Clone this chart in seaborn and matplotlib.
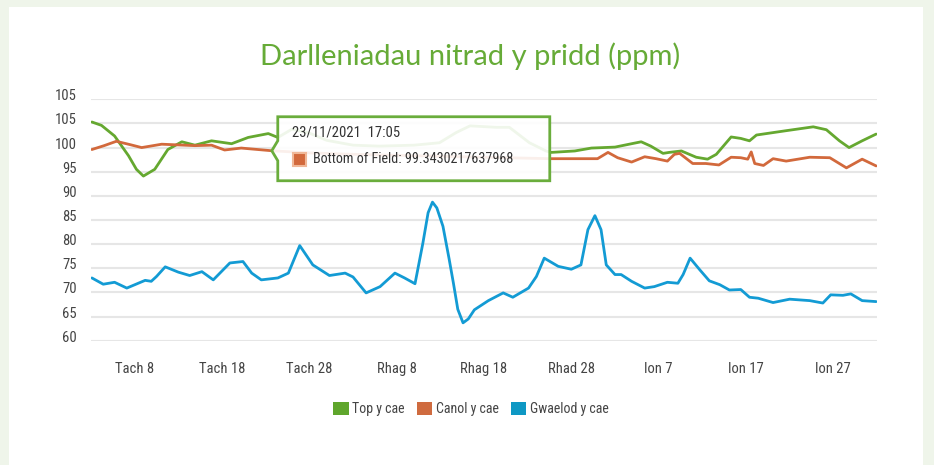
import matplotlib
matplotlib.use("Agg")
import matplotlib.pyplot as plt
import matplotlib.dates as mdates
from matplotlib import font_manager
from matplotlib.patches import Polygon, Rectangle, Patch
from matplotlib.transforms import IdentityTransform, ScaledTranslation
import pandas as pd
import seaborn as sns

# DATA (days counted from 3 Nov 2021)
start = pd.Timestamp("2021-11-03")

top_days = [0.1, 1.2, 2.7, 4.3, 5.2, 6.0, 7.3, 8.8, 10.4, 11.9, 13.8, 16.1, 18.0, 20.3, 21.4,
            23.0, 25.0, 27.0, 30.0, 33.0, 37.0, 39.9, 41.8, 43.4, 46.4, 47.9, 50.2, 52.1,
            52.7, 55.4, 57.3, 60.0, 61.9, 63.0, 64.1, 65.5, 66.2, 67.6, 69.3, 70.6, 71.6,
            73.3, 74.4, 75.4, 76.2, 79.6, 82.7, 84.2, 85.7, 86.8, 88.3, 89.9]
top_vals = [105.3, 104.6, 102.4, 98.3, 95.5, 94.1, 95.5, 99.6, 101.2, 100.5, 101.4, 100.8, 102.1, 102.9, 102.1,
            103.8, 103.0, 101.5, 100.5, 100.3, 100.5, 101.0, 103.1, 104.5, 104.2, 104.2, 101.0, 99.3,
            99.0, 99.3, 99.9, 100.1, 100.8, 101.2, 100.3, 98.8, 99.0, 99.3, 98.0, 97.6, 98.6,
            102.2, 101.9, 101.4, 102.6, 103.5, 104.3, 103.7, 101.4, 100.0, 101.4, 102.8]

mid_days = [0.1, 1.5, 2.9, 4.5, 5.8, 8.1, 11.9, 13.8, 15.3, 17.2, 20.7,
            25.0, 30.0, 35.0, 40.0, 45.0, 50.0, 52.7, 55.4, 58.0, 59.2, 60.3, 61.9, 63.4,
            64.7, 66.0, 66.8, 67.4, 68.9, 70.4, 71.9, 73.3, 74.4, 75.2, 75.6, 76.0, 77.0,
            78.1, 79.6, 82.3, 84.6, 86.5, 88.3, 89.9]
mid_vals = [99.6, 100.4, 101.3, 100.6, 100.0, 100.7, 100.4, 100.5, 99.5, 99.9, 99.343,
            98.9, 98.6, 98.4, 98.2, 98.0, 97.8, 97.7, 97.7, 97.7, 99.0, 97.9, 97.0, 98.1,
            97.7, 97.2, 98.6, 98.8, 96.7, 96.7, 96.4, 98.0, 97.9, 97.6, 99.1, 96.7, 96.3,
            97.7, 97.2, 98.0, 97.9, 95.8, 97.6, 96.2]

bot_days = [0.1, 1.4, 2.7, 4.1, 6.2, 6.9, 7.5, 8.5, 10.0, 11.3, 12.7, 14.0, 15.9, 17.4, 18.4,
            19.5, 21.4, 22.6, 23.9, 25.4, 27.3, 29.1, 30.0, 31.5, 33.1, 34.8, 35.9, 37.1,
            38.0, 38.6, 39.1, 39.6, 40.3, 41.0, 41.5, 42.0, 42.6, 43.2, 43.9, 45.5, 47.2,
            48.3, 50.1, 51.0, 51.9, 53.5, 55.0, 56.1, 56.9, 57.7, 58.4, 59.0, 60.0, 60.7,
            61.9, 63.4, 64.5, 66.0, 67.2, 67.8, 68.6, 69.7, 70.8, 72.0, 73.1, 74.4, 75.4,
            76.4, 78.1, 80.0, 82.3, 83.8, 84.7, 86.1, 87.0, 88.3, 89.9]
bot_vals = [73.0, 71.7, 72.1, 70.9, 72.5, 72.3, 73.3, 75.3, 74.2, 73.5, 74.3, 72.6, 76.1, 76.4, 74.0,
            72.6, 73.0, 74.0, 79.7, 75.7, 73.5, 74.0, 73.2, 69.9, 71.2, 74.0, 73.0, 71.8,
            80.2, 86.5, 88.7, 87.5, 83.7, 77.0, 71.9, 66.5, 63.7, 64.5, 66.4, 68.3, 69.9,
            69.0, 70.9, 73.3, 77.1, 75.4, 74.8, 75.7, 83.0, 85.9, 83.0, 75.7, 73.7, 73.7,
            72.3, 70.9, 71.2, 72.1, 71.9, 73.7, 77.1, 74.7, 72.4, 71.6, 70.5, 70.6, 69.0,
            68.8, 67.9, 68.6, 68.3, 67.8, 69.5, 69.4, 69.7, 68.3, 68.1]

series_names = ["Top y cae", "Canol y cae", "Gwaelod y cae"]
series_colors = ["#65a830", "#d2693c", "#139bd4"]
legend_colors = ["#5fa62c", "#cf6b3f", "#0e98c4"]

tick_days = [5, 15, 25, 35, 45, 55, 65, 75, 85]
tick_labels = ["Tach 8", "Tach 18", "Tach 28", "Rhag 8", "Rhag 18", "Rhad 28", "Ion 7", "Ion 17", "Ion 27"]
y_ticks = [60, 65, 70, 75, 80, 85, 90, 95, 100, 105, 110]
y_labels = ["60", "65", "70", "75", "80", "85", "90", "95", "100", "105", "105"]

tip_day = 20.7
tip_val = 99.3430217637968
tip_title = "23/11/2021  17:05"
tip_text = "Bottom of Field: 99.3430217637968"

# long table for seaborn
frames = []
for name, d, v in zip(series_names, [top_days, mid_days, bot_days], [top_vals, mid_vals, bot_vals]):
    frames.append(pd.DataFrame({"date": start + pd.to_timedelta(d, unit="D"), "value": v, "series": name}))
df = pd.concat(frames, ignore_index=True)

# FONTS
names = {f.name for f in font_manager.fontManager.ttflist}
narrow = next((n for n in ["Roboto Condensed", "Liberation Sans Narrow", "Open Sans Condensed",
                           "DejaVu Sans Condensed"] if n in names), "Liberation Sans")
title_font = "Lato" if "Lato" in names else "DejaVu Sans"

sns.set_style("white")
plt.rcParams["font.family"] = [narrow, "DejaVu Sans"]

fig = plt.figure(figsize=(9.34, 4.65), dpi=100)
fig.patch.set_facecolor("#eff5ea")
fig.add_artist(Rectangle((9 / 934, 0), 914 / 934, 458 / 465, transform=fig.transFigure,
                         facecolor="white", edgecolor="none", zorder=-5))

ax = fig.add_axes([91 / 934, 1 - 340.7 / 465, 786 / 934, 241.4 / 465])
ax.set_facecolor("none")

sns.lineplot(data=df, x="date", y="value", hue="series", hue_order=series_names,
             palette=series_colors, estimator=None, sort=True, linewidth=2.0,
             legend=False, ax=ax)
for ln in ax.get_lines():
    ln.set_solid_joinstyle("round")

ax.set_xlim(start, start + pd.Timedelta(days=90))
ax.set_ylim(60, 110)
ax.set_xticks([start + pd.Timedelta(days=t) for t in tick_days])
ax.set_xticklabels(tick_labels)
ax.set_yticks(y_ticks)
ax.set_yticklabels(y_labels)
ax.set_xlabel("")
ax.set_ylabel("")
ax.tick_params(axis="both", length=0, labelsize=10.5, labelcolor="#444444")
ax.tick_params(axis="x", pad=15)
ax.tick_params(axis="y", pad=10)
for lab in ax.get_yticklabels():
    lab.set_transform(lab.get_transform() + ScaledTranslation(0, 4.5 / 100, fig.dpi_scale_trans))
ax.grid(True, axis="y", color="#e6e6e6", linewidth=1.5)
ax.grid(False, axis="x")
ax.set_axisbelow(True)
sns.despine(ax=ax, left=True, bottom=True)

fig.text(470 / 934, 1 - 56 / 465, "Darlleniadau nitrad y pridd (ppm)", ha="center", va="center",
         color="#66ab37", fontsize=21, family=title_font)

handles = [Patch(facecolor=c, edgecolor="none", label=n) for n, c in zip(series_names, legend_colors)]
fig.legend(handles=handles, loc="center", bbox_to_anchor=(471 / 934, 1 - 409 / 465), ncol=3,
           frameon=False, fontsize=10, handlelength=1.1, handleheight=1.1,
           handletextpad=0.25, columnspacing=0.9, labelcolor="#444444")

# tooltip
fig.canvas.draw()
tx, ty = ax.transData.transform((mdates.date2num(start + pd.Timedelta(days=tip_day)), tip_val))
box = [(tx, ty), (tx + 6, ty + 10), (tx + 6, ty + 34), (tx + 278, ty + 34),
       (tx + 278, ty - 30), (tx + 6, ty - 30), (tx + 6, ty - 10)]
fig.add_artist(Polygon(box, closed=True, transform=IdentityTransform(), facecolor="white",
                       alpha=0.9, edgecolor="none", zorder=5))
fig.add_artist(Polygon(box, closed=True, transform=IdentityTransform(), facecolor="none",
                       edgecolor="#6aad3c", linewidth=2.0, zorder=6))
fig.add_artist(Rectangle((tx + 21, ty - 15), 13, 13, transform=IdentityTransform(),
                         facecolor="#d2693c", edgecolor="#f0b898", linewidth=1.5, zorder=7))
fig.text(tx + 20, ty + 18, tip_title, transform=IdentityTransform(), ha="left", va="center",
         fontsize=10.5, color="#333333", zorder=7)
fig.text(tx + 41, ty - 8, tip_text, transform=IdentityTransform(), ha="left", va="center",
         fontsize=10.2, color="#333333", zorder=7)

fig.savefig("out.png", dpi=100, facecolor=fig.get_facecolor())
